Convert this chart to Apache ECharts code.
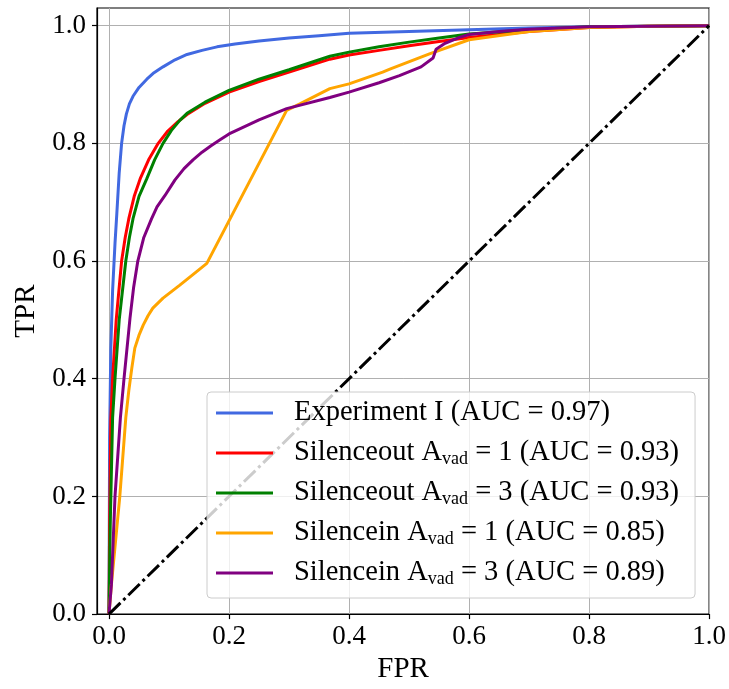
<!DOCTYPE html>
<html>
<head>
<meta charset="utf-8">
<script src="https://cdn.jsdelivr.net/npm/echarts@6/dist/echarts.min.js"></script>
<style>
html,body{margin:0;padding:0;background:#fff;}
#m1{width:729px;height:689px;}
</style>
</head>
<body>
<div id="m1"></div>
<script>
// ROC curves, points as [FPR, TPR]
var tickValues = [0, 0.2, 0.4, 0.6, 0.8, 1.0];

var expI = [[0,0],[0.001,0.3],[0.003,0.45],[0.006,0.55],[0.01,0.63],[0.013,0.68],[0.017,0.75],[0.021,0.8],[0.025,0.83],[0.029,0.85],[0.034,0.867],[0.04,0.88],[0.05,0.895],[0.063,0.909],[0.075,0.92],[0.09,0.93],[0.11,0.942],[0.13,0.951],[0.155,0.958],[0.18,0.964],[0.21,0.969],[0.25,0.974],[0.3,0.979],[0.35,0.983],[0.4,0.987],[0.5,0.99],[0.6,0.993],[0.7,0.996],[0.8,0.998],[0.9,0.999],[1,1]];
var outA1 = [[0,0],[0.001,0.15],[0.003,0.33],[0.006,0.4],[0.012,0.5],[0.021,0.6],[0.027,0.64],[0.033,0.672],[0.042,0.71],[0.052,0.74],[0.066,0.772],[0.082,0.8],[0.098,0.821],[0.115,0.837],[0.13,0.849],[0.16,0.868],[0.2,0.887],[0.25,0.905],[0.3,0.921],[0.368,0.943],[0.4,0.95],[0.45,0.958],[0.5,0.966],[0.55,0.973],[0.6,0.98],[0.7,0.99],[0.8,0.997],[0.9,0.999],[1,1]];
var outA3 = [[0,0],[0.002,0.15],[0.006,0.334],[0.01,0.4],[0.017,0.5],[0.028,0.6],[0.034,0.64],[0.04,0.672],[0.05,0.71],[0.063,0.74],[0.076,0.772],[0.09,0.8],[0.104,0.822],[0.118,0.839],[0.13,0.851],[0.16,0.87],[0.2,0.89],[0.25,0.909],[0.3,0.925],[0.368,0.948],[0.4,0.955],[0.45,0.964],[0.5,0.972],[0.55,0.979],[0.6,0.986],[0.7,0.993],[0.8,0.998],[0.9,0.999],[1,1]];
var inA1 = [[0,0],[0.004,0.05],[0.018,0.2],[0.028,0.334],[0.033,0.38],[0.038,0.418],[0.043,0.452],[0.05,0.474],[0.057,0.491],[0.065,0.507],[0.073,0.52],[0.09,0.537],[0.118,0.559],[0.146,0.582],[0.163,0.596],[0.296,0.856],[0.318,0.867],[0.368,0.893],[0.4,0.901],[0.456,0.921],[0.468,0.926],[0.534,0.952],[0.6,0.976],[0.7,0.99],[0.8,0.997],[0.9,0.999],[1,1]];
var inA3 = [[0,0],[0.004,0.05],[0.01,0.2],[0.019,0.334],[0.025,0.4],[0.035,0.503],[0.041,0.555],[0.048,0.6],[0.058,0.64],[0.071,0.672],[0.08,0.692],[0.093,0.711],[0.11,0.738],[0.125,0.757],[0.14,0.772],[0.155,0.785],[0.17,0.796],[0.185,0.806],[0.2,0.816],[0.25,0.84],[0.296,0.859],[0.368,0.878],[0.4,0.887],[0.45,0.903],[0.484,0.915],[0.52,0.93],[0.54,0.945],[0.545,0.96],[0.56,0.97],[0.584,0.98],[0.6,0.985],[0.65,0.99],[0.7,0.994],[0.8,0.998],[0.9,0.999],[1,1]];
var chance = [[0,0],[1,1]];

var names = [
    'Experiment I (AUC = 0.97)',
    'Silenceout A{s|vad} = 1 (AUC = 0.93)',
    'Silenceout A{s|vad} = 3 (AUC = 0.93)',
    'Silencein A{s|vad} = 1 (AUC = 0.85)',
    'Silencein A{s|vad} = 3 (AUC = 0.89)'
];
var colors = ['#4169e1', '#ff0000', '#008000', '#ffa500', '#800080'];
var curves = [expI, outA1, outA3, inA1, inA3];

var font = 'Liberation Serif';
var series = [];
for (var i = 0; i < curves.length; i++) {
    series.push({
        name: names[i],
        type: 'line',
        z: 2,
        data: curves[i],
        showSymbol: false,
        symbol: 'none',
        silent: true,
        color: colors[i],
        lineStyle: { width: 3, color: colors[i] }
    });
}
series.push({
    name: 'chance',
    type: 'line',
    z: 2,
    data: chance,
    showSymbol: false,
    symbol: 'none',
    silent: true,
    lineStyle: { width: 3, color: '#000', type: [16, 4, 3, 4] }
});

var myChart = echarts.init(document.getElementById('m1'));
var option = {
    animation: false,
    backgroundColor: '#fff',
    textStyle: { fontFamily: font },
    grid: {
        left: 97, right: 19, top: 8, bottom: 72,
        show: true, borderColor: '#000', borderWidth: 1.2
    },
    legend: {
        z: 20,
        left: 207, top: 392,
        orient: 'vertical',
        data: names.map(function (n) { return { name: n, icon: 'rect' }; }),
        itemWidth: 57, itemHeight: 3,
        itemGap: 10,
        padding: [6, 16, 10, 9],
        backgroundColor: 'rgba(255,255,255,0.8)',
        borderColor: '#cccccc', borderWidth: 1, borderRadius: 4,
        selectedMode: false,
        textStyle: {
            fontFamily: font, fontSize: 28.5, color: '#000',
            lineHeight: 30, padding: [0, 0, 0, 16],
            rich: {
                s: { fontFamily: font, fontSize: 18, color: '#000', verticalAlign: 'bottom', lineHeight: 30 }
            }
        }
    },
    xAxis: {
        type: 'value', min: -0.02, max: 1.0,
        name: 'FPR', nameLocation: 'middle', nameGap: 38,
        nameTextStyle: { fontFamily: font, fontSize: 29, color: '#000' },
        axisLine: { onZero: false, lineStyle: { color: '#000', width: 1.2 } },
        axisTick: { show: true, length: 5, customValues: tickValues, lineStyle: { color: '#000', width: 1.2 } },
        axisLabel: {
            customValues: tickValues, margin: 9,
            fontFamily: font, fontSize: 27, color: '#000',
            formatter: function (v) { return v.toFixed(1); }
        },
        splitLine: { show: true, lineStyle: { color: '#b0b0b0', width: 1 } }
    },
    yAxis: {
        type: 'value', min: 0, max: 1.03,
        name: 'TPR', nameLocation: 'middle', nameGap: 56,
        nameTextStyle: { fontFamily: font, fontSize: 29, color: '#000' },
        axisLine: { onZero: false, lineStyle: { color: '#000', width: 1.2 } },
        axisTick: { show: true, length: 5, customValues: tickValues, lineStyle: { color: '#000', width: 1.2 } },
        axisLabel: {
            customValues: tickValues, margin: 11,
            fontFamily: font, fontSize: 27, color: '#000',
            formatter: function (v) { return v.toFixed(1); }
        },
        splitLine: { show: true, lineStyle: { color: '#b0b0b0', width: 1 } }
    },
    series: series
};
myChart.setOption(option);
</script>
</body>
</html>
